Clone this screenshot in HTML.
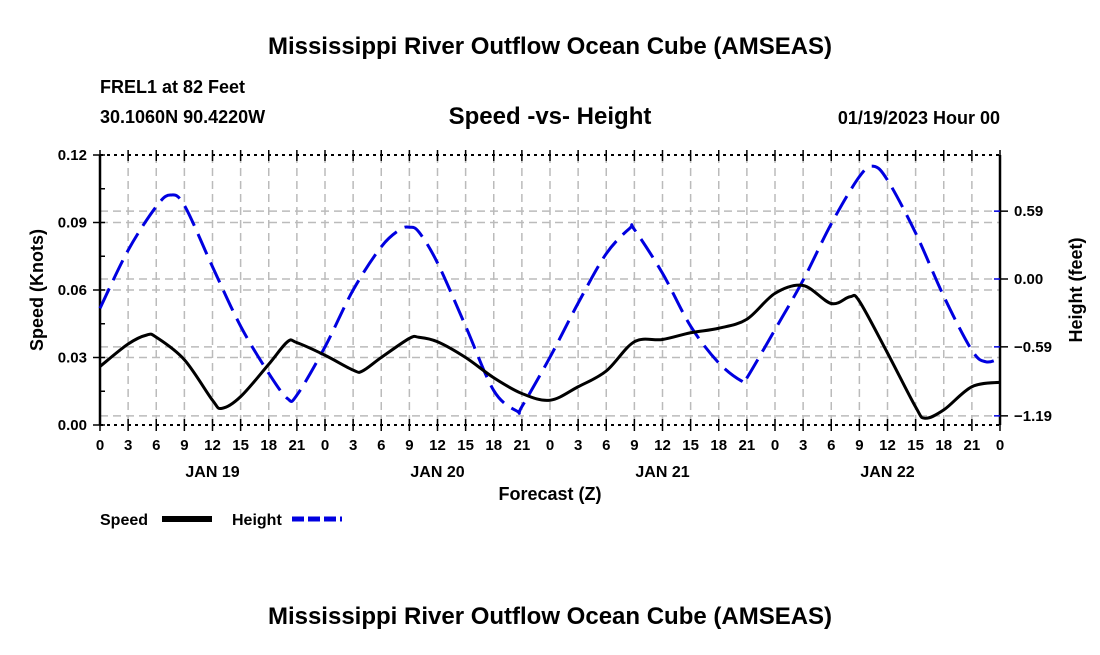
<!DOCTYPE html>
<html><head><meta charset="utf-8"><style>
body{margin:0;background:#fff;}
svg text{font-family:"Liberation Sans",sans-serif;font-weight:bold;fill:#000;}
</style></head><body>
<svg id="chart" width="1100" height="650" viewBox="0 0 1100 650" xmlns="http://www.w3.org/2000/svg">
<rect width="1100" height="650" fill="#fff"/>
<text x="550" y="54" font-size="24" text-anchor="middle">Mississippi River Outflow Ocean Cube (AMSEAS)</text>
<text x="100" y="93" font-size="18">FREL1 at 82 Feet</text>
<text x="100" y="123" font-size="18">30.1060N  90.4220W</text>
<text x="550" y="124" font-size="24" text-anchor="middle">Speed -vs- Height</text>
<text x="1000" y="124" font-size="18" text-anchor="end">01/19/2023 Hour 00</text>
<g id="grid"></g>
<g id="axes"></g>
<g id="series"></g>
<text transform="translate(43,290) rotate(-90)" font-size="18" text-anchor="middle">Speed (Knots)</text>
<text transform="translate(1082,290) rotate(-90)" font-size="18" text-anchor="middle">Height (feet)</text>
<text x="550" y="500" font-size="18" text-anchor="middle">Forecast (Z)</text>
<g>
<text x="100" y="525" font-size="16">Speed</text>
<line x1="162" y1="519" x2="212" y2="519" stroke="#000" stroke-width="6"/>
<text x="232" y="525" font-size="16">Height</text>
<line x1="292" y1="519" x2="342" y2="519" stroke="#0000e0" stroke-width="5" stroke-dasharray="12,4"/>
</g>
<text x="550" y="624" font-size="24" text-anchor="middle">Mississippi River Outflow Ocean Cube (AMSEAS)</text>
</svg>
<script>
const speedHours=[0,3,5,6,9,12,13,15,18,20,21,24,27,28,30,33,34,36,39,42,45,48,51,54,57,60,63,66,69,72,75,78,80,81,84,87,88,90,93,96];
const speedValues=[0.026,0.036,0.040,0.039,0.029,0.011,0.0074,0.0126,0.027,0.037,0.0366,0.031,0.0244,0.024,0.030,0.0385,0.039,0.037,0.030,0.021,0.014,0.011,0.017,0.024,0.037,0.038,0.041,0.043,0.047,0.0585,0.062,0.054,0.057,0.055,0.032,0.008,0.003,0.0067,0.017,0.019];
const heightHours=[0,3,6,7.5,9,12,15,18,20,21,24,27,30,32,33,34,36,39,42,44.5,45,48,51,54,56.5,57,60,63,66,68.5,69,72,75,78,81,82.5,84,87,90,93,94.5,96];
const heightValues=[-0.255,0.25,0.63,0.73,0.64,0.107,-0.41,-0.82,-1.04,-1.01,-0.59,-0.096,0.28,0.43,0.45,0.41,0.14,-0.41,-0.97,-1.15,-1.11,-0.68,-0.21,0.22,0.44,0.43,0.05,-0.41,-0.73,-0.89,-0.86,-0.44,-0.01,0.48,0.89,0.98,0.86,0.40,-0.15,-0.62,-0.72,-0.69];
const xTickLabels=["0","3","6","9","12","15","18","21"];
const dayLabels=["JAN 19","JAN 20","JAN 21","JAN 22"];
const speedTicks=[0,0.03,0.06,0.09,0.12];
const speedTickLabels=["0.00","0.03","0.06","0.09","0.12"];
const heightTicks=[-1.19,-0.59,0,0.59];
const heightTickLabels=["\u22121.19","\u22120.59","0.00","0.59"];

const L=100,R=1000,T=155,B=425,NS="http://www.w3.org/2000/svg";
const xS=h=>L+(h/96)*(R-L);
const yS=v=>B-(v/0.12)*(B-T);
const yH=f=>279-f*115;
function mk(tag,attrs,parent){const e=document.createElementNS(NS,tag);for(const k in attrs)e.setAttribute(k,attrs[k]);parent.appendChild(e);return e;}
const grid=document.getElementById('grid'),axes=document.getElementById('axes'),series=document.getElementById('series');
for(let h=3;h<96;h+=3){const l=mk('line',{x1:xS(h),x2:xS(h),y1:T,y2:B,stroke:'#bbb','stroke-width':1.5,'stroke-dasharray':'8,5'},grid);

}
speedTicks.slice(1,4).forEach(v=>{const l=mk('line',{x1:L,x2:R,y1:yS(v),y2:yS(v),stroke:'#bbb','stroke-width':1.5,'stroke-dasharray':'8,5'},grid);

});
heightTicks.forEach(v=>{const l=mk('line',{x1:L,x2:R,y1:yH(v),y2:yH(v),stroke:'#bbb','stroke-width':1.5,'stroke-dasharray':'8,5'},grid);

});
// frame
[[L,T,L,B,'left-axis'],[R,T,R,B,'right-axis']].forEach(a=>{const l=mk('line',{x1:a[0],y1:a[1],x2:a[2],y2:a[3],stroke:'#000','stroke-width':2.5},axes);

});
[[T,'top-border'],[B,'x-axis']].forEach(a=>{const l=mk('line',{x1:L,y1:a[0],x2:R,y2:a[0],stroke:'#000','stroke-width':2,'stroke-dasharray':'3,4'},axes);

});
for(let h=0;h<=96;h+=3){const x=xS(h);
mk('line',{x1:x,x2:x,y1:B-6,y2:B+6,stroke:'#000','stroke-width':1.5},axes);
mk('line',{x1:x,x2:x,y1:T-5,y2:T+6,stroke:'#000','stroke-width':1.5},axes);
const t=mk('text',{x:x,y:B+25,'font-size':15,'text-anchor':'middle'},axes);t.textContent=xTickLabels[(h/3)%8];

}
dayLabels.forEach((d,i)=>{const t=mk('text',{x:xS(12+24*i),y:B+52,'font-size':16,'text-anchor':'middle'},axes);t.textContent=d;

});
speedTicks.forEach((v,i)=>{const y=yS(v);mk('line',{x1:L-7,x2:L+5,y1:y,y2:y,stroke:'#000','stroke-width':1.5},axes);
const t=mk('text',{x:L-13,y:y+5,'font-size':15,'text-anchor':'end'},axes);t.textContent=speedTickLabels[i];


if(i<4){const ym=yS(v+0.015);mk('line',{x1:L,x2:L+5,y1:ym,y2:ym,stroke:'#000','stroke-width':1.5},axes);}});
heightTicks.forEach((v,i)=>{const y=yH(v);mk('line',{x1:R-6,x2:R,y1:y,y2:y,stroke:'#0000e0','stroke-width':1.5},axes);mk('line',{x1:R,x2:R+8,y1:y,y2:y,stroke:'#000','stroke-width':1.5},axes);
const t=mk('text',{x:R+14,y:y+5,'font-size':15},axes);t.textContent=heightTickLabels[i];

});
function smooth(pts){let d='M'+pts[0][0]+','+pts[0][1];for(let i=0;i<pts.length-1;i++){const p0=pts[i-1]||pts[i],p1=pts[i],p2=pts[i+1],p3=pts[i+2]||p2;
const c1=[p1[0]+(p2[0]-p0[0])/6,p1[1]+(p2[1]-p0[1])/6],c2=[p2[0]-(p3[0]-p1[0])/6,p2[1]-(p3[1]-p1[1])/6];
d+=' C'+c1+' '+c2+' '+p2;}return d;}
const hp=mk('path',{d:smooth(heightHours.map((h,i)=>[xS(h),yH(heightValues[i])])),fill:'none',stroke:'#0000e0','stroke-width':3,'stroke-dasharray':'22,9'},series);


const sp=mk('path',{d:smooth(speedHours.map((h,i)=>[xS(h),yS(speedValues[i])])),fill:'none',stroke:'#000','stroke-width':3},series);


</script>
</body></html>
